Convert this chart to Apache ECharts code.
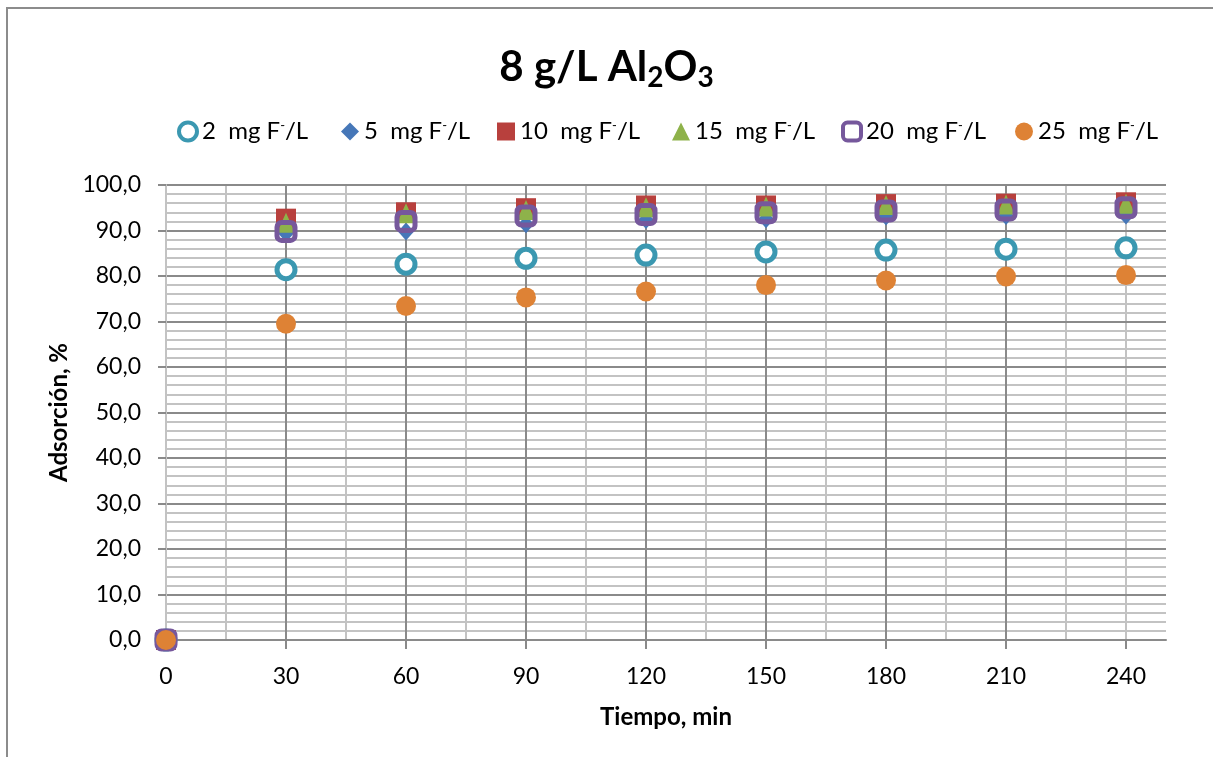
<!DOCTYPE html>
<html>
<head>
<meta charset="utf-8">
<script src="https://cdn.jsdelivr.net/npm/echarts@6/dist/echarts.min.js"></script>
<style>
  html, body { margin: 0; padding: 0; background: #fff; }
  #chart { width: 1213px; height: 757px; }
</style>
</head>
<body>
<div id="chart"></div>
<script>
// Adsorption (%) of fluoride on 8 g/L Al2O3 versus contact time
const times = [0, 30, 60, 90, 120, 150, 180, 210, 240];
const seriesNames = ['2 mg F-/L', '5 mg F-/L', '10 mg F-/L', '15 mg F-/L', '20 mg F-/L', '25 mg F-/L'];
const ads2 = [0, 81.4, 82.6, 83.9, 84.6, 85.3, 85.7, 85.9, 86.2];
const ads5 = [0, 89.4, 89.8, 91.4, 92.3, 92.5, 93.1, 93.2, 93.3];
const ads10 = [0, 92.6, 94.0, 94.9, 95.5, 95.5, 95.8, 95.9, 96.2];
const ads15 = [0, 91.7, 93.8, 94.5, 95.1, 95.3, 95.6, 95.7, 95.9];
const ads20 = [0, 89.8, 92.0, 93.2, 93.5, 93.9, 94.3, 94.5, 95.0];
const ads25 = [0, 69.5, 73.4, 75.3, 76.6, 78.0, 79.0, 79.9, 80.2];
const xTicks = [0, 30, 60, 90, 120, 150, 180, 210, 240];

const FONT = 'Lato, "Open Sans", sans-serif';
const MAJOR = '#8a8a8a';
const MINOR = '#c3c3c3';

const pairs = ys => times.map((t, i) => [t, ys[i]]);

const styles = [
  { symbol: 'circle', symbolSize: 18, itemStyle: { color: '#ffffff', borderColor: '#3b98b1', borderWidth: 5, opacity: 1 } },
  { symbol: 'diamond', symbolSize: [16, 18], itemStyle: { color: '#4677b8', opacity: 1 } },
  { symbol: 'rect', symbolSize: 20, itemStyle: { color: '#b8403d', opacity: 1 } },
  { symbol: 'triangle', symbolSize: [18, 20], itemStyle: { color: '#8eb24a', opacity: 1 } },
  { symbol: 'roundRect', symbolSize: 18, itemStyle: { color: 'rgba(0,0,0,0)', borderColor: '#76589c', borderWidth: 5, opacity: 1 } },
  { symbol: 'circle', symbolSize: 20, itemStyle: { color: '#de8235', opacity: 1 } }
];
const values = [ads2, ads5, ads10, ads15, ads20, ads25];

const series = seriesNames.map((name, i) => Object.assign({
  name: name,
  type: 'scatter',
  xAxisIndex: 0,
  yAxisIndex: 0,
  data: pairs(values[i]),
  clip: false,
  z: 10 + i,
  emphasis: { disabled: true }
}, styles[i]));

// one legend block per series, laid out in a single row
const legendLeft = [172, 336, 492, 667, 836, 1010];
const legendIconStyle = [
  { borderWidth: 4, opacity: 1 }, { opacity: 1 }, { opacity: 1 }, { opacity: 1 }, { borderWidth: 4, opacity: 1 }, { opacity: 1 }
];
const legends = seriesNames.map((name, i) => ({
  data: [name],
  left: legendLeft[i],
  top: 114,
  itemWidth: 18,
  itemHeight: 18,
  selectedMode: false,
  itemStyle: legendIconStyle[i],
  formatter: n => n.replace(/^(\d+) /, '$1  ').replace('F-/', 'F{sup|-}/'),
  textStyle: {
    fontFamily: FONT,
    fontSize: 24,
    color: '#000',
    rich: {
      sup: { fontSize: 13, verticalAlign: 'top', fontFamily: FONT, color: '#000', padding: [0, 0, 12, 0] }
    }
  }
}));

const chart = echarts.init(document.getElementById('chart'));
chart.setOption({
  animation: false,
  backgroundColor: '#ffffff',
  title: {
    text: '8 g/L Al{sub|2}O{sub|3}',
    left: 'center',
    top: 37,
    textStyle: {
      fontFamily: FONT,
      fontWeight: 'bold',
      fontSize: 42,
      color: '#000',
      rich: {
        sub: { fontFamily: FONT, fontWeight: 'bold', fontSize: 28, color: '#000', verticalAlign: 'bottom', padding: [22, 0, 0, 0] }
      }
    }
  },
  legend: legends,
  grid: { left: 166, right: 47, top: 185, bottom: 117, containLabel: false },
  xAxis: [
    {
      type: 'value',
      min: 0,
      max: 250,
      interval: 30,
      name: 'Tiempo, min',
      nameLocation: 'middle',
      nameGap: 65,
      nameTextStyle: { fontFamily: FONT, fontWeight: 'bold', fontSize: 24, color: '#000' },
      axisLine: { show: true, onZero: false, lineStyle: { color: MAJOR, width: 2 } },
      axisTick: { show: true, customValues: xTicks, length: 9, lineStyle: { color: MAJOR, width: 2 } },
      axisLabel: { customValues: xTicks, margin: 25, fontFamily: FONT, fontSize: 23, color: '#000' },
      splitLine: { show: true, showMinLine: false, showMaxLine: false, lineStyle: { color: MAJOR, width: 2 } },
      z: 3
    },
    {
      // half-step vertical grid lines
      type: 'value',
      min: 0,
      max: 250,
      interval: 15,
      position: 'top',
      axisLine: { show: false },
      axisTick: { show: false },
      axisLabel: { show: false },
      splitLine: { show: true, showMinLine: false, showMaxLine: false, lineStyle: { color: MINOR, width: 2 } },
      z: 1
    }
  ],
  yAxis: {
    type: 'value',
    min: 0,
    max: 100,
    interval: 10,
    name: 'Adsorción, %',
    nameLocation: 'middle',
    nameGap: 94,
    nameTextStyle: { fontFamily: FONT, fontWeight: 'bold', fontSize: 24, color: '#000' },
    axisLine: { show: true, lineStyle: { color: MINOR, width: 2 } },
    axisTick: { show: true, length: 8, lineStyle: { color: MAJOR, width: 2 } },
    axisLabel: {
      margin: 25,
      fontFamily: FONT,
      fontSize: 23,
      color: '#000',
      formatter: v => v.toFixed(1).replace('.', ',')
    },
    splitLine: { show: true, lineStyle: { color: MAJOR, width: 2 } },
    minorTick: { show: false, splitNumber: 5 },
    minorSplitLine: { show: true, lineStyle: { color: MINOR, width: 2 } },
    z: 2
  },
  graphic: [{
    type: 'rect',
    shape: { x: 7, y: 8, width: 1300, height: 820 },
    style: { fill: null, stroke: '#8c8c8c', lineWidth: 2 },
    silent: true,
    z: -10
  }],
  series: series
});
</script>
</body>
</html>
